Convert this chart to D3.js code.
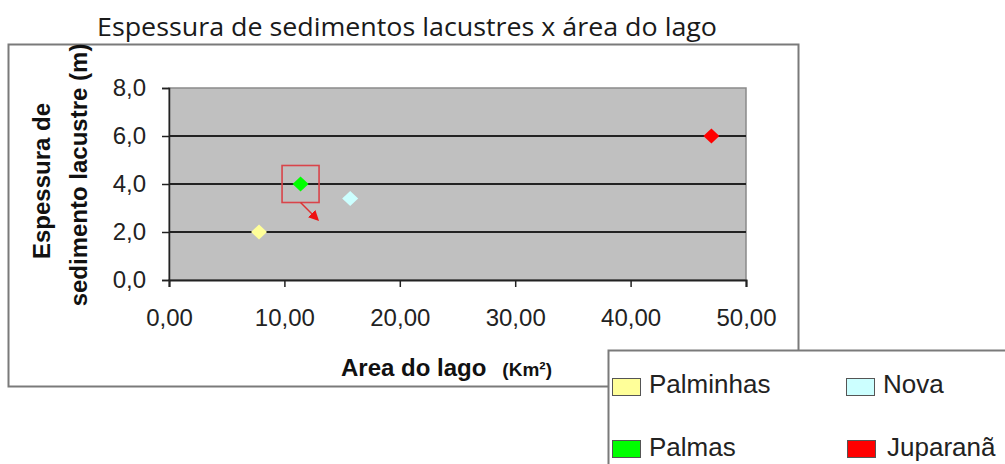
<!DOCTYPE html>
<html>
<head>
<meta charset="utf-8">
<script src="https://cdn.jsdelivr.net/npm/d3@7"></script>
<style>
  html, body { margin: 0; padding: 0; background: #fff; }
  svg { display: block; }
</style>
</head>
<body>
<svg id="chart" width="1005" height="464"></svg>
<script>
// Lake data: area (km²) vs lacustrine sediment thickness (m)
const lakes = ["Palminhas", "Nova", "Palmas", "Juparanã"];
const areas = [7.8, 15.7, 11.4, 47.0];
const thickness = [2.0, 3.4, 4.0, 6.0];
const colors = ["#ffff99", "#ccffff", "#00ff00", "#ff0000"];
const xTicks = [0, 10, 20, 30, 40, 50];
const yTicks = [0, 2, 4, 6, 8];
const highlighted = "Palmas";

const pt = d3.formatLocale({ decimal: ",", thousands: ".", grouping: [3], currency: ["R$", ""] });
const fmtX = pt.format(".2f");
const fmtY = pt.format(".1f");

const svg = d3.select("#chart");

// Outer chart frame
svg.append("rect")
  .attr("x", 8.5).attr("y", 44.5)
  .attr("width", 790).attr("height", 342)
  .attr("fill", "#fff").attr("stroke", "#7a7a7a").attr("stroke-width", 2);

// Title
svg.append("text")
  .attr("x", 97).attr("y", 36)
  .attr("textLength", 620).attr("lengthAdjust", "spacingAndGlyphs")
  .style("font-family", "'Open Sans', 'Noto Sans', sans-serif")
  .style("font-size", "25px")
  .attr("fill", "#1a1a1a")
  .text("Espessura de sedimentos lacustres x área do lago");

const x = d3.scaleLinear().domain([0, 50]).range([169, 746]);
const y = d3.scaleLinear().domain([0, 8]).range([280, 88]);

// Plot area background
svg.append("rect")
  .attr("x", x(0)).attr("y", y(8))
  .attr("width", x(50) - x(0)).attr("height", y(0) - y(8))
  .attr("fill", "#c0c0c0").attr("stroke", "#8a8a8a").attr("stroke-width", 1.5);

// Horizontal gridlines
svg.append("g").selectAll("line")
  .data(yTicks.filter(t => t > 0 && t < 8))
  .join("line")
  .attr("x1", x(0)).attr("x2", x(50))
  .attr("y1", d => y(d)).attr("y2", d => y(d))
  .attr("stroke", "#222").attr("stroke-width", 2);

const font = "'Liberation Sans', Arial, sans-serif";

// Y axis
const yAxis = svg.append("g")
  .attr("transform", `translate(${x(0)},0)`)
  .call(d3.axisLeft(y).tickValues(yTicks).tickFormat(fmtY).tickSize(7).tickPadding(16));
yAxis.select(".domain").attr("stroke", "#222").attr("stroke-width", 1.5);
yAxis.selectAll(".tick line").attr("stroke", "#222").attr("stroke-width", 1.5);
yAxis.selectAll("text")
  .style("font-family", font).style("font-size", "24px").attr("fill", "#222");

// X axis
const xAxis = svg.append("g")
  .attr("transform", `translate(0,${y(0)})`)
  .call(d3.axisBottom(x).tickValues(xTicks).tickFormat(fmtX).tickSize(7).tickPadding(22));
xAxis.select(".domain").attr("stroke", "#222").attr("stroke-width", 2);
xAxis.selectAll(".tick line").attr("stroke", "#222").attr("stroke-width", 1.5);
xAxis.selectAll("text")
  .style("font-family", font).style("font-size", "24px").attr("fill", "#222");

// Axis titles
const xTitle = svg.append("text")
  .attr("x", 341).attr("y", 376)
  .style("font-family", font).attr("fill", "#111");
xTitle.append("tspan").style("font-size", "24px").style("font-weight", "bold").text("Area do lago");
xTitle.append("tspan").attr("dx", 16).style("font-size", "19px").style("font-weight", "bold").text("(Km²)");

const yTitle = svg.append("g").style("font-family", font).style("font-weight", "bold")
  .style("font-size", "24px").attr("fill", "#111");
yTitle.append("text")
  .attr("transform", "translate(50,181) rotate(-90)")
  .attr("text-anchor", "middle")
  .text("Espessura de");
yTitle.append("text")
  .attr("transform", "translate(87,175) rotate(-90)")
  .attr("text-anchor", "middle")
  .text("sedimento lacustre (m)");

// Points (square-proportioned diamonds)
const dw = 8, dh = 7.5;
const diamondPath = `M0,${-dh}L${dw},0L0,${dh}L${-dw},0Z`;
svg.append("g").selectAll("path")
  .data(lakes.map((name, i) => ({ name, a: areas[i], t: thickness[i], c: colors[i] })))
  .join("path")
  .attr("d", diamondPath)
  .attr("transform", d => `translate(${x(d.a)},${y(d.t)})`)
  .attr("fill", d => d.c);

// Highlight box with arrow around one lake
const hi = lakes.indexOf(highlighted);
const hx = x(areas[hi]), hy = y(thickness[hi]);
const half = 18.5;
svg.append("defs").append("marker")
  .attr("id", "arrowhead")
  .attr("viewBox", "0 0 10 10").attr("refX", 8).attr("refY", 5)
  .attr("markerWidth", 7).attr("markerHeight", 7)
  .attr("markerUnits", "strokeWidth")
  .attr("orient", "auto")
  .append("path").attr("d", "M0,0 L10,5 L0,10 Z").attr("fill", "#ee1111");
svg.append("rect")
  .attr("x", hx - half).attr("y", hy - half)
  .attr("width", half * 2).attr("height", half * 2)
  .attr("fill", "none").attr("stroke", "#d9444a").attr("stroke-width", 1.6);
svg.append("line")
  .attr("x1", hx).attr("y1", hy + half)
  .attr("x2", hx + 17).attr("y2", hy + half + 17)
  .attr("stroke", "#d33").attr("stroke-width", 1.5)
  .attr("marker-end", "url(#arrowhead)");

// Legend
svg.append("rect")
  .attr("x", 608.5).attr("y", 350.5)
  .attr("width", 500).attr("height", 200)
  .attr("fill", "#fff").attr("stroke", "#7a7a7a").attr("stroke-width", 2);

const legendPos = [
  { sx: 612, sy: 378, tx: 649, ty: 393 },
  { sx: 846, sy: 378, tx: 883, ty: 393 },
  { sx: 612, sy: 440, tx: 649, ty: 456 },
  { sx: 847, sy: 440, tx: 887, ty: 456 }
];
const lg = svg.append("g");
lakes.forEach((name, i) => {
  const p = legendPos[i];
  lg.append("rect")
    .attr("x", p.sx + 0.5).attr("y", p.sy + 0.5)
    .attr("width", 28).attr("height", 17)
    .attr("fill", colors[i]).attr("stroke", "#555").attr("stroke-width", 1);
  lg.append("text")
    .attr("x", p.tx).attr("y", p.ty)
    .style("font-family", font).style("font-size", "26px").attr("fill", "#222")
    .text(name);
});
</script>
</body>
</html>
